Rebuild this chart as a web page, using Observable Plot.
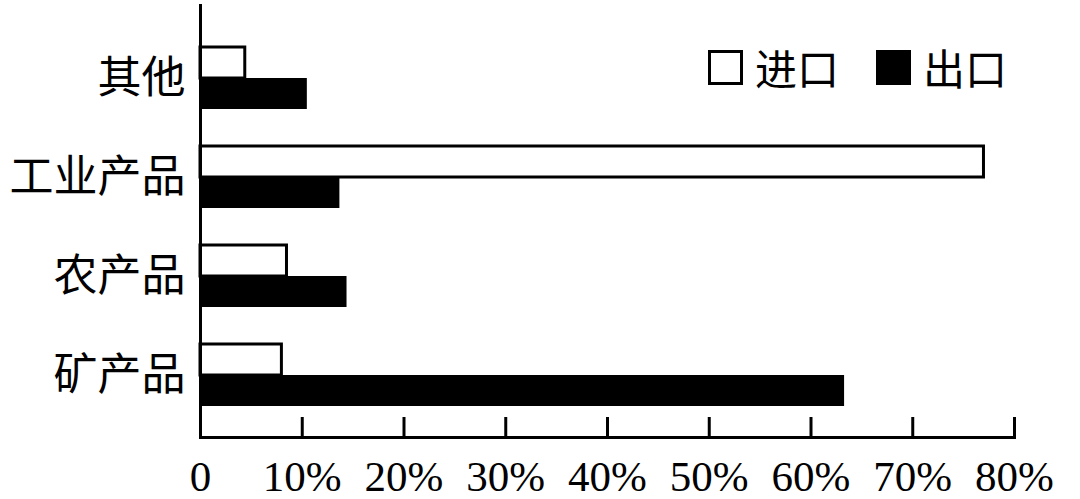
<!DOCTYPE html>
<html>
<head>
<meta charset="utf-8">
<script src="https://cdn.jsdelivr.net/npm/d3@7"></script>
<script src="https://cdn.jsdelivr.net/npm/@observablehq/plot@0.6"></script>
<style>
  html, body { margin: 0; padding: 0; background: #fff; }
  #wrap { position: relative; width: 1080px; height: 499px; }
  #legend { position: absolute; left: 708px; top: 43px; display: flex; align-items: center;
    font-family: "Noto Sans CJK SC", sans-serif; font-size: 42px; line-height: 48px; color: #000; }
  .sw { width: 35px; height: 35px; box-sizing: border-box; border: 3px solid #000; margin-right: 12px; }
  .item { display: flex; align-items: center; margin-right: 37px; }
</style>
</head>
<body>
<div id="wrap"></div>
<script>
const categories = ["其他", "工业产品", "农产品", "矿产品"];
const importValues = [4.4, 77.0, 8.5, 8.0];
const exportValues = [10.5, 13.7, 14.4, 63.3];
const xTicks = [0, 10, 20, 30, 40, 50, 60, 70, 80];
const seriesNames = ["进口", "出口"];
const seriesFills = ["#fff", "#000"];

const imports = categories.map((c, i) => ({category: c, value: importValues[i]}));
const exports = categories.map((c, i) => ({category: c, value: exportValues[i]}));

const chart = Plot.plot({
  width: 1080,
  height: 499,
  marginLeft: 200,
  marginRight: 66,
  marginTop: 5,
  marginBottom: 62,
  style: {background: "#fff", color: "#000"},
  x: {domain: [0, 80]},
  y: {domain: categories, range: [28.5, 425.5], paddingInner: 0.37, paddingOuter: 0.185},
  marks: [
    Plot.barX(imports, {x: "value", y: "category", fill: seriesFills[0], stroke: "#000", strokeWidth: 3, insetBottom: 31}),
    Plot.barX(exports, {x: "value", y: "category", fill: seriesFills[1], insetTop: 31}),
    Plot.ruleX(xTicks, {x: d => d, insetTop: 412, stroke: "#000", strokeWidth: 3}),
    Plot.frame({anchor: "left", stroke: "#000", strokeWidth: 3}),
    Plot.frame({anchor: "bottom", stroke: "#000", strokeWidth: 3}),
    Plot.axisX(xTicks, {tickSize: 0, tickPadding: 23, fontSize: 43,
      fontFamily: "'Liberation Serif', 'Times New Roman', serif",
      tickFormat: d => d === 0 ? "0" : d + "%", label: null}),
    Plot.axisY({tickSize: 0, tickPadding: 15, fontSize: 44,
      fontFamily: "'Noto Sans CJK SC', sans-serif", label: null})
  ]
});
document.getElementById("wrap").appendChild(chart);

const legend = document.createElement("div");
legend.id = "legend";
seriesNames.forEach((name, i) => {
  const item = document.createElement("div");
  item.className = "item";
  const sw = document.createElement("div");
  sw.className = "sw";
  sw.style.background = seriesFills[i];
  const t = document.createElement("span");
  t.textContent = name;
  item.appendChild(sw);
  item.appendChild(t);
  legend.appendChild(item);
});
document.getElementById("wrap").appendChild(legend);
</script>
</body>
</html>
